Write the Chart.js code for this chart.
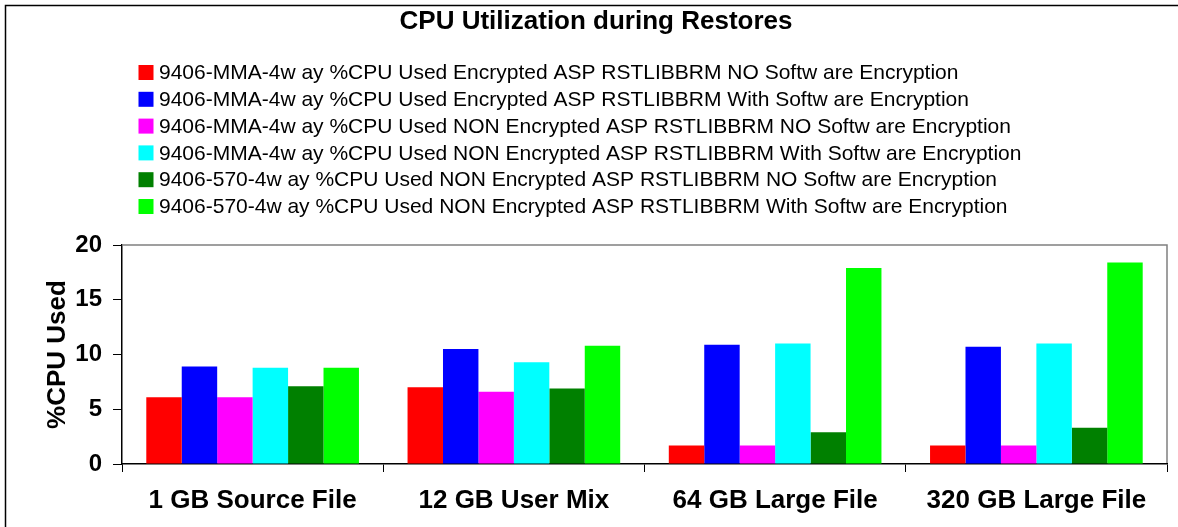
<!DOCTYPE html>
<html>
<head>
<meta charset="utf-8">
<script src="https://cdn.jsdelivr.net/npm/chart.js@4.4.1/dist/chart.umd.min.js"></script>
<style>
  body { margin: 0; background: #fff; }
  canvas { display: block; }
</style>
</head>
<body>
<canvas id="cpuChart" width="1178" height="527"></canvas>
<script>
const chartTitle = 'CPU Utilization during Restores';
const categories = ['1 GB Source File', '12 GB User Mix', '64 GB Large File', '320 GB Large File'];

const seriesLabels = [
  '9406-MMA-4w ay %CPU Used Encrypted ASP RSTLIBBRM NO Softw are Encryption',
  '9406-MMA-4w ay %CPU Used Encrypted ASP RSTLIBBRM With Softw are Encryption',
  '9406-MMA-4w ay %CPU Used NON Encrypted ASP RSTLIBBRM NO Softw are Encryption',
  '9406-MMA-4w ay %CPU Used NON Encrypted ASP RSTLIBBRM With Softw are Encryption',
  '9406-570-4w ay %CPU Used NON Encrypted ASP RSTLIBBRM NO Softw are Encryption',
  '9406-570-4w ay %CPU Used NON Encrypted ASP RSTLIBBRM With Softw are Encryption'
];
const seriesColors = ['#ff0000', '#0000ff', '#ff00ff', '#00ffff', '#008000', '#00ff00'];

const mmaEncNoSw = [6.1, 7.0, 1.7, 1.7];
const mmaEncWithSw = [8.9, 10.5, 10.9, 10.7];
const mmaNonEncNoSw = [6.1, 6.6, 1.7, 1.7];
const mmaNonEncWithSw = [8.8, 9.3, 11.0, 11.0];
const m570NonEncNoSw = [7.1, 6.9, 2.9, 3.3];
const m570NonEncWithSw = [8.8, 10.8, 17.9, 18.4];

const yTicks = [0, 5, 10, 15, 20];

const seriesValues = [mmaEncNoSw, mmaEncWithSw, mmaNonEncNoSw, mmaNonEncWithSw, m570NonEncNoSw, m570NonEncWithSw];

const FONT = "'Liberation Sans', Arial, sans-serif";

// frame, title, legend and the grey top/right edge of the plot
const decorations = {
  id: 'decorations',
  beforeDraw(chart) {
    const ctx = chart.ctx;
    ctx.save();
    ctx.fillStyle = '#fff';
    ctx.fillRect(0, 0, chart.width, chart.height);
    ctx.strokeStyle = '#000';
    ctx.lineWidth = 1.5;
    ctx.beginPath();
    ctx.moveTo(5.5, chart.height + 5);
    ctx.lineTo(5.5, 5.5);
    ctx.lineTo(chart.width + 5, 5.5);
    ctx.stroke();

    ctx.fillStyle = '#000';
    ctx.font = 'bold 26px ' + FONT;
    ctx.textAlign = 'center';
    ctx.textBaseline = 'middle';
    ctx.fillText(chartTitle, 596, 22);

    ctx.font = '21px ' + FONT;
    ctx.textAlign = 'left';
    chart.data.datasets.forEach((ds, i) => {
      const y = 72.5 + i * 26.8;
      ctx.fillStyle = ds.backgroundColor;
      ctx.fillRect(138.5, y - 7.5, 15, 15);
      ctx.fillStyle = '#000';
      ctx.fillText(ds.label, 159, y + 1);
    });
    ctx.restore();
  },
  afterDraw(chart) {
    const a = chart.chartArea;
    const ctx = chart.ctx;
    ctx.save();
    ctx.strokeStyle = '#808080';
    ctx.lineWidth = 1.5;
    ctx.beginPath();
    ctx.moveTo(a.left + 1, a.top);
    ctx.lineTo(a.right, a.top);
    ctx.lineTo(a.right, a.bottom - 1);
    ctx.stroke();
    ctx.restore();
  }
};

const ctx = document.getElementById('cpuChart').getContext('2d');
const cpuChart = new Chart(ctx, {
  type: 'bar',
  data: {
    labels: categories,
    datasets: seriesValues.map((vals, i) => ({
      label: seriesLabels[i],
      data: vals,
      backgroundColor: seriesColors[i],
      borderWidth: 0,
      barPercentage: 1.0,
      categoryPercentage: 0.814
    }))
  },
  options: {
    responsive: false,
    animation: false,
    devicePixelRatio: 1,
    layout: { padding: { left: 0, right: 11, top: 245, bottom: 0 } },
    plugins: {
      legend: { display: false },
      title: { display: false },
      tooltip: { enabled: false }
    },
    scales: {
      x: {
        ticks: { color: '#000', font: { family: FONT, size: 26, weight: 'bold' }, padding: 13 },
        grid: { offset: true, drawOnChartArea: false, color: '#000', tickLength: 8 },
        border: { color: '#000', width: 1.5 },
        afterFit: (scale) => { scale.height = 63; }
      },
      y: {
        min: 0,
        max: 20,
        afterBuildTicks: (scale) => { scale.ticks = yTicks.map(v => ({ value: v })); },
        ticks: { color: '#000', font: { family: FONT, size: 24, weight: 'bold' }, padding: 11 },
        grid: { drawOnChartArea: false, color: '#000', tickLength: 9 },
        border: { color: '#000', width: 1.5 },
        title: {
          display: true,
          text: '%CPU Used',
          color: '#000',
          font: { family: FONT, size: 26, weight: 'bold' },
          padding: { top: 42, bottom: 0 }
        },
        afterFit: (scale) => { scale.width = 122; }
      }
    }
  },
  plugins: [decorations]
});
</script>
</body>
</html>
